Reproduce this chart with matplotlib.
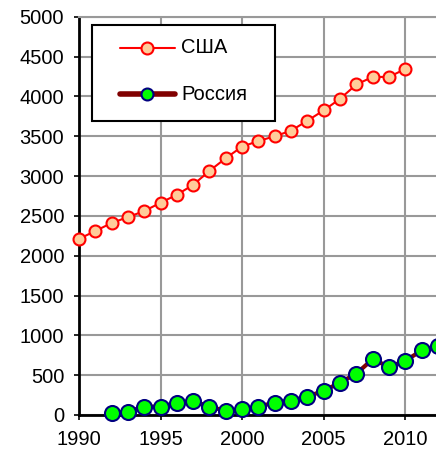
import matplotlib
matplotlib.use("Agg")
import matplotlib.pyplot as plt
from matplotlib.lines import Line2D
from matplotlib.patches import Rectangle

plt.rcParams['font.family'] = ['Liberation Sans', 'DejaVu Sans']

# yearly values
years_usa = list(range(1990, 2011))
usa = [2210, 2310, 2410, 2485, 2560, 2665, 2765, 2890, 3065, 3225, 3370,
       3440, 3500, 3570, 3695, 3825, 3970, 4150, 4245, 4245, 4345]

years_rus = list(range(1992, 2013))
rus = [20, 42, 105, 105, 150, 175, 105, 50, 70, 105, 155,
       180, 230, 305, 405, 520, 700, 605, 680, 810, 860]

labels = ['США', 'Россия']

usa_style = dict(color='#ff0000', lw=1.5, marker='o', mfc='#ffcc99',
                 mec='#ff0000', mew=1.5)
rus_style = dict(color='#800000', marker='o', mfc='#00ff00',
                 mec='#000080', mew=1.5)

fig = plt.figure(figsize=(4.36, 4.54), dpi=100)
ax = fig.add_axes([0.181, 0.086, 0.819, 0.877])

ax.plot(years_usa, usa, ms=8.6, clip_on=False, zorder=3, **usa_style)
ax.plot(years_rus, rus, lw=3, ms=10.8, clip_on=False, zorder=3, **rus_style)

ax.set_xlim(1990, 2011.88)
ax.set_ylim(0, 5000)
ax.set_xticks(range(1990, 2011, 5))
ax.set_yticks(range(0, 5001, 500))
ax.grid(True, color='#999999', lw=1.5)
ax.set_axisbelow(True)

for s in ('left', 'bottom'):
    ax.spines[s].set_color('black')
    ax.spines[s].set_linewidth(2)
ax.spines['right'].set_visible(False)
ax.spines['top'].set_color('#999999')
ax.spines['top'].set_linewidth(1.5)
ax.tick_params(labelsize=14.5, length=3.6, width=1.2, colors='black')
ax.tick_params(axis='y', pad=7)
ax.tick_params(axis='x', pad=7)

# boxed legend drawn in axes coordinates
ax.add_patch(Rectangle((0.036, 0.739), 0.513, 0.241, transform=ax.transAxes,
                       facecolor='white', edgecolor='black', lw=1.5, zorder=5))
rows = [(0.922, usa_style, 1.5), (0.806, rus_style, 4)]
for (y, style, lw), text in zip(rows, labels):
    ax.add_line(Line2D([0.115, 0.269], [y, y], transform=ax.transAxes,
                       color=style['color'], lw=lw,
                       solid_capstyle='round', zorder=6))
    ax.add_line(Line2D([0.192], [y], transform=ax.transAxes, ms=8.6,
                       ls='None', marker='o', mfc=style['mfc'],
                       mec=style['mec'], mew=1.5, zorder=7))
    ax.text(0.286, y, text, transform=ax.transAxes, fontsize=14.5,
            va='center', ha='left', zorder=7)

fig.savefig('out.png', dpi=100)
